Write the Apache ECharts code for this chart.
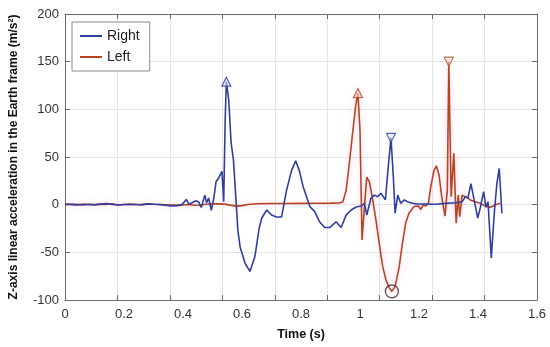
<!DOCTYPE html>
<html><head><meta charset="utf-8">
<script src="https://cdn.jsdelivr.net/npm/echarts@6/dist/echarts.min.js"></script>
<style>html,body{margin:0;padding:0;background:#fff}#c{width:550px;height:347px}</style>
</head><body><div id="c"></div>
<script>
// Time (s), acceleration (m/s^2)
const rightData = [
 [0,0.5],[0.02,0.3],[0.04,-0.3],[0.06,0.4],[0.08,0.2],[0.1,-0.2],[0.12,0.6],[0.14,1.2],[0.16,0.3],[0.18,-0.4],
 [0.2,0.2],[0.22,0.5],[0.24,0.1],[0.26,-0.3],[0.28,0.8],[0.30,0.4],[0.32,0.2],[0.34,-0.5],[0.36,-1.4],[0.38,-1.0],
 [0.395,-0.2],[0.405,3],[0.411,5.5],[0.42,0.5],[0.431,2],[0.442,4],[0.453,3],[0.462,-3],[0.474,10],[0.48,2],
 [0.487,7],[0.496,-6],[0.505,8],[0.512,24],[0.521,28],[0.532,35],[0.538,3],[0.543,89],[0.547,129],[0.555,110],
 [0.563,65],[0.571,47],[0.579,8],[0.586,-27],[0.594,-45],[0.611,-62],[0.627,-70],[0.644,-54],[0.658,-25],[0.667,-14],
 [0.684,-5.6],[0.70,-10.8],[0.717,-13],[0.734,-13],[0.751,15],[0.768,36],[0.782,46],[0.794,36],[0.807,19],[0.83,-2],
 [0.846,-7],[0.863,-18],[0.88,-24],[0.897,-24],[0.919,-18],[0.936,-24],[0.953,-11],[0.97,-5.6],[0.987,-2.4],[1.004,-1.4],
 [1.015,1.4],[1.023,-10.8],[1.037,6.7],[1.049,10],[1.06,8.4],[1.071,12],[1.086,5],[1.097,44],[1.105,70],[1.113,29],
 [1.119,-9],[1.128,10],[1.138,1.4],[1.15,5],[1.161,3],[1.178,1.5],[1.195,0.7],[1.223,0.7],[1.256,0.5],[1.29,1.4],
 [1.324,2],[1.346,3],[1.357,8.4],[1.366,7],[1.376,22],[1.385,8],[1.399,-14],[1.408,-2.8],[1.419,13.6],[1.427,-2.8],
 [1.434,3],[1.445,-56],[1.456,-5.6],[1.464,22],[1.472,38],[1.481,-9]
];
const leftData = [
 [0,0],[0.02,0.5],[0.04,0.3],[0.06,-0.2],[0.08,0.4],[0.1,0.2],[0.12,0.5],[0.14,0.3],[0.16,0.9],[0.18,-0.3],
 [0.2,0.2],[0.22,0.4],[0.24,0.1],[0.26,0.3],[0.28,1.0],[0.3,0.4],[0.32,0.1],[0.34,-0.2],[0.36,-0.5],[0.38,-0.3],
 [0.4,-0.4],[0.42,0.2],[0.44,-0.6],[0.46,-0.3],[0.48,0.5],[0.5,1.0],[0.52,0.8],[0.54,0.6],[0.56,-0.5],[0.58,-1.5],
 [0.6,-1.0],[0.62,0.2],[0.65,1.0],[0.7,1.2],[0.75,1.3],[0.8,1.4],[0.85,1.5],[0.9,1.6],[0.93,1.8],[0.942,3],
 [0.953,15],[0.964,44],[0.976,78],[0.985,103],[0.993,117],[1.0,78],[1.007,-37],[1.015,-2],[1.023,29],[1.032,24],
 [1.043,5],[1.054,-16],[1.065,-40],[1.077,-65],[1.088,-79],[1.099,-87],[1.108,-91],[1.119,-86],[1.133,-65],[1.144,-40],
 [1.155,-19],[1.166,-9],[1.183,-2],[1.198,-1.4],[1.206,-5],[1.214,-0.3],[1.223,-1.4],[1.232,1.4],[1.24,19],[1.251,36],
 [1.259,40.6],[1.268,31],[1.277,8.4],[1.288,-12],[1.296,15],[1.301,150],[1.309,8.4],[1.318,54],[1.326,-19.5],[1.333,10],
 [1.338,-12.6],[1.346,10],[1.357,8.4],[1.374,5],[1.391,3],[1.408,1.4],[1.425,-1.4],[1.442,-2.8],[1.458,-0.3],[1.475,1.4]
];
// marker times (points taken from the series above)
const rightUpMarks = [0.547];
const rightDownMarks = [1.105];
const leftUpMarks = [0.993];
const leftDownMarks = [1.301];
const leftCircleMarks = [1.108];

const blue = '#2f3f9e';
const red = '#b5461f';
function pick(data, times){ return times.map(t => data.find(p => Math.abs(p[0]-t) < 1e-9)); }

const axisCol = '#6a6a6a';
const font = 'Liberation Sans, Arial, sans-serif';
const chart = echarts.init(document.getElementById('c'), null, {renderer:'canvas'});
chart.setOption({
  animation:false,
  textStyle:{fontFamily:font},
  grid:{left:62, top:14, width:475, height:286},
  legend:{
    data:['Right','Left'], orient:'vertical', left:72, top:22,
    backgroundColor:'#fff', borderColor:'#8a8a8a', borderWidth:1,
    padding:[7,10,7,8], itemGap:7, itemWidth:22, itemHeight:2, icon:'rect',
    textStyle:{fontSize:14, color:'#222', fontFamily:font}
  },
  xAxis:[
    {type:'value', position:'bottom', min:0, max:1.8, interval:0.2,
     axisLine:{show:true, onZero:false, lineStyle:{color:axisCol}},
     axisTick:{show:true, inside:true, length:5, lineStyle:{color:axisCol}},
     axisLabel:{show:false}, splitLine:{show:true, lineStyle:{color:'#e4e4e4'}}},
    {type:'value', position:'bottom', min:0, max:1.6, interval:0.2,
     axisLine:{show:false, onZero:false}, axisTick:{show:false}, splitLine:{show:false},
     axisLabel:{show:true, margin:8, fontSize:13, color:'#333', fontFamily:font},
     name:'Time (s)', nameLocation:'middle', nameGap:28,
     nameTextStyle:{fontWeight:'bold', fontSize:12.5, color:'#111', fontFamily:font}},
    {type:'value', position:'top', min:0, max:1.8, interval:0.2,
     axisLine:{show:true, onZero:false, lineStyle:{color:axisCol}},
     axisTick:{show:true, inside:true, length:5, lineStyle:{color:axisCol}},
     axisLabel:{show:false}, splitLine:{show:false}}
  ],
  yAxis:[
    {type:'value', position:'left', min:-100, max:200, interval:50,
     axisLine:{show:true, onZero:false, lineStyle:{color:axisCol}},
     axisTick:{show:true, inside:true, length:5, lineStyle:{color:axisCol}},
     axisLabel:{show:true, margin:6, fontSize:13, color:'#333', fontFamily:font},
     splitLine:{show:true, lineStyle:{color:'#e4e4e4'}},
     name:'Z-axis linear acceleration in the Earth frame (m/s²)', nameLocation:'middle', nameRotate:90, nameGap:45,
     nameTextStyle:{fontWeight:'bold', fontSize:12, color:'#111', fontFamily:font}},
    {type:'value', position:'right', min:-100, max:200, interval:50,
     axisLine:{show:true, onZero:false, lineStyle:{color:axisCol}},
     axisTick:{show:true, inside:true, length:5, lineStyle:{color:axisCol}},
     axisLabel:{show:false}, splitLine:{show:false}}
  ],
  series:[
    {name:'Left', type:'line', xAxisIndex:1, yAxisIndex:0, data:leftData, showSymbol:false,
     color:red, lineStyle:{color:red, width:1.6, shadowColor:'rgba(255,120,210,0.4)', shadowBlur:6}, z:2},
    {name:'Right', type:'line', xAxisIndex:1, yAxisIndex:0, data:rightData, showSymbol:false,
     color:blue, lineStyle:{color:blue, width:1.6}, z:3},
    {type:'scatter', xAxisIndex:1, yAxisIndex:0, data:pick(rightData, rightUpMarks), symbol:'triangle', symbolSize:9,
     itemStyle:{color:'rgba(220,225,255,0.7)', borderColor:blue, borderWidth:1.2}, z:5},
    {type:'scatter', xAxisIndex:1, yAxisIndex:0, data:pick(rightData, rightDownMarks), symbol:'triangle', symbolRotate:180, symbolSize:9,
     itemStyle:{color:'rgba(220,225,255,0.7)', borderColor:blue, borderWidth:1.2}, z:5},
    {type:'scatter', xAxisIndex:1, yAxisIndex:0, data:pick(leftData, leftUpMarks), symbol:'triangle', symbolSize:9,
     itemStyle:{color:'rgba(255,220,230,0.7)', borderColor:red, borderWidth:1.2}, z:5},
    {type:'scatter', xAxisIndex:1, yAxisIndex:0, data:pick(leftData, leftDownMarks), symbol:'triangle', symbolRotate:180, symbolSize:9,
     itemStyle:{color:'rgba(255,220,230,0.7)', borderColor:'#9a5a20', borderWidth:1.2}, z:5},
    {type:'scatter', xAxisIndex:1, yAxisIndex:0, data:pick(leftData, leftCircleMarks), symbol:'circle', symbolSize:13,
     itemStyle:{color:'rgba(0,0,0,0)', borderColor:'#3a1e36', borderWidth:1.3}, z:5}
  ]
});
</script></body></html>
